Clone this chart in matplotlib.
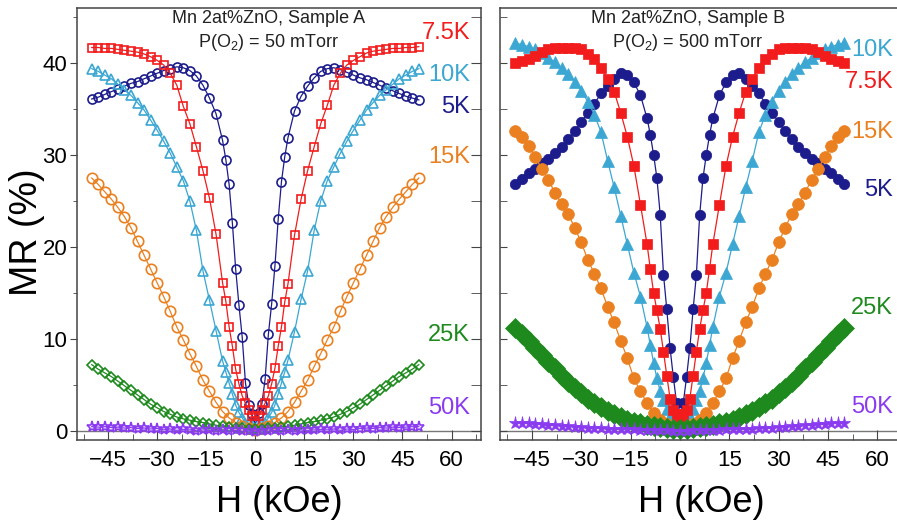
import matplotlib
matplotlib.use("Agg")
import matplotlib.pyplot as plt
from matplotlib.ticker import MultipleLocator

plt.rcParams['font.family'] = ['Liberation Sans', 'DejaVu Sans']
plt.rcParams['mathtext.default'] = 'regular'

# field grids (kOe)
H_FINE = [-50, -48, -46, -44, -42, -40, -38, -36, -34, -32, -30, -28, -26, -24, -22,
          -20, -18, -16, -14, -12, -10, -9, -8, -7, -6, -5, -4, -3, -2, -1, 0,
          1, 2, 3, 4, 5, 6, 7, 8, 9, 10, 12, 14, 16, 18, 20, 22, 24, 26, 28, 30,
          32, 34, 36, 38, 40, 42, 44, 46, 48, 50]
H_COARSE = [-50, -48, -46, -44, -42, -40, -38, -36, -34, -32, -30, -28, -26, -24, -22,
            -20, -18, -16, -14, -12, -10, -8, -6, -4, -2, 0, 2, 4, 6, 8, 10, 12, 14,
            16, 18, 20, 22, 24, 26, 28, 30, 32, 34, 36, 38, 40, 42, 44, 46, 48, 50]

# ---- Sample A, P(O2) = 50 mTorr ----
A_5K = [36.1, 36.3, 36.6, 36.9, 37.2, 37.5, 37.8, 38.0, 38.3, 38.6, 38.9, 39.2, 39.4, 39.6, 39.5,
        39.2, 38.6, 37.6, 36.2, 34.5, 31.6, 29.5, 26.8, 22.6, 17.6, 13.7, 10.2, 5.2, 2.8, 1.8, 0.7,
        1.9, 2.9, 5.6, 10.5, 13.8, 17.9, 23.0, 27.1, 29.8, 31.9, 34.8, 36.4, 37.5, 38.4, 39.1,
        39.4, 39.5, 39.3, 39.0, 38.7, 38.4, 38.2, 37.9, 37.6, 37.3, 37.0, 36.7, 36.4, 36.2, 36.0]
A_7K5 = [41.7, 41.7, 41.6, 41.6, 41.5, 41.4, 41.3, 41.2, 41.0, 40.7, 40.3, 39.8, 38.9, 37.6, 35.3,
         33.4, 30.9, 28.3, 25.3, 21.4, 16.1, 14.1, 11.3, 9.2, 6.7, 5.1, 3.8, 3.0, 2.3, 1.6, 1.1,
         1.6, 2.3, 3.0, 3.8, 5.1, 6.8, 9.2, 11.3, 14.0, 16.0, 21.3, 25.2, 28.3, 30.9, 33.4,
         35.4, 37.6, 38.9, 39.8, 40.3, 40.7, 41.1, 41.3, 41.4, 41.5, 41.6, 41.6, 41.7, 41.7, 41.8]
A_10K = [39.4, 39.1, 38.7, 38.3, 37.7, 37.1, 36.5, 35.7, 34.9, 33.8, 32.7, 31.5, 30.2, 28.7, 27.2,
         25.0, 21.8, 17.4, 14.2, 10.9, 7.6, 6.4, 5.2, 4.0, 2.8, 2.0, 1.4, 0.9, 0.7, 0.5, 0.3,
         0.5, 0.7, 0.9, 1.4, 2.0, 2.8, 4.0, 5.2, 6.4, 7.7, 10.8, 14.3, 17.4, 21.8, 25.0,
         27.2, 28.7, 30.2, 31.5, 32.7, 33.8, 34.9, 35.7, 36.5, 37.1, 37.7, 38.3, 38.7, 39.1, 39.4]
A_15K = [27.5, 26.8, 26.0, 25.2, 24.3, 23.3, 22.1, 20.6, 19.1, 17.6, 16.1, 14.6, 13.0, 11.3, 9.9,
         8.4, 7.0, 5.5, 4.3, 3.1, 2.1, 1.4, 0.9, 0.5, 0.3, 0.1, 0.3, 0.5, 0.9, 1.4, 2.1, 3.1, 4.3,
         5.5, 7.0, 8.4, 9.9, 11.3, 13.0, 14.6, 16.1, 17.6, 19.1, 20.6, 22.1, 23.3, 24.3, 25.2,
         26.0, 26.8, 27.5]
A_25K = [7.2, 6.7, 6.3, 5.9, 5.4, 4.9, 4.4, 3.9, 3.4, 2.9, 2.5, 2.1, 1.8, 1.5, 1.3,
         1.15, 1.0, 0.9, 0.75, 0.6, 0.5, 0.4, 0.3, 0.3, 0.2, 0.2, 0.2, 0.3, 0.3, 0.4, 0.5, 0.6,
         0.75, 0.9, 1.0, 1.15, 1.3, 1.5, 1.8, 2.1, 2.5, 2.9, 3.4, 3.9, 4.4, 4.9, 5.4, 5.9,
         6.3, 6.7, 7.2]
A_50K = [0.45, 0.4, 0.45, 0.35, 0.4, 0.3, 0.35, 0.25, 0.3, 0.2, 0.25, 0.1, 0.2, 0.05, 0.15,
         0.1, 0.0, 0.1, 0.05, 0.0, 0.05, -0.05, 0.05, -0.05, 0.0, -0.1, 0.0, -0.05, 0.05, 0.0,
         0.05, 0.0, 0.1, 0.05, 0.1, 0.15, 0.1, 0.2, 0.05, 0.2, 0.15, 0.25, 0.3, 0.25, 0.35,
         0.3, 0.4, 0.35, 0.4, 0.45, 0.45]

# ---- Sample B, P(O2) = 500 mTorr ----
B_5K = [26.9, 27.4, 28.0, 28.5, 29.1, 29.6, 30.2, 30.9, 31.7, 32.6, 33.6, 34.6, 35.6, 36.7, 37.5,
        38.3, 38.9, 38.7, 37.9, 36.5, 34.0, 32.2, 30.0, 27.5, 23.5, 17.0, 13.2, 9.0, 5.8, 3.0, 1.2,
        3.0, 5.8, 9.0, 13.2, 17.0, 23.5, 27.5, 30.0, 32.2, 34.0, 36.5, 37.9, 38.7, 38.9, 38.3,
        37.5, 36.7, 35.6, 34.6, 33.6, 32.6, 31.7, 30.9, 30.2, 29.6, 29.1, 28.5, 28.0, 27.4, 26.9]
B_7K5 = [40.0, 40.2, 40.5, 40.8, 41.2, 41.5, 41.6, 41.6, 41.6, 41.6, 41.5, 41.0, 40.4, 39.5, 38.3,
         36.9, 34.6, 32.0, 28.8, 24.6, 20.3, 17.6, 15.0, 13.1, 11.1, 8.6, 6.0, 3.5, 2.3, 1.8, 1.2,
         1.8, 2.3, 3.5, 6.0, 8.6, 11.1, 13.1, 15.0, 17.6, 20.3, 24.6, 28.8, 32.0, 34.6, 36.9,
         38.3, 39.5, 40.4, 41.0, 41.5, 41.6, 41.6, 41.6, 41.6, 41.5, 41.2, 40.8, 40.5, 40.2, 40.0]
B_10K = [42.2, 42.0, 41.8, 41.5, 41.1, 40.6, 40.1, 39.5, 38.8, 38.0, 37.0, 35.8, 34.4, 32.5, 29.4,
         26.5, 23.4, 20.3, 17.2, 14.6, 11.3, 9.3, 7.4, 5.7, 4.3, 3.3, 2.4, 1.6, 1.2, 0.8, 0.5,
         0.8, 1.2, 1.6, 2.4, 3.3, 4.3, 5.7, 7.4, 9.3, 11.3, 14.6, 17.2, 20.3, 23.4, 26.5,
         29.4, 32.5, 34.4, 35.8, 37.0, 38.0, 38.8, 39.5, 40.1, 40.6, 41.1, 41.5, 41.8, 42.0, 42.2]
B_15K = [32.6, 32.0, 31.0, 29.8, 28.5, 27.3, 25.9, 24.7, 23.6, 22.1, 20.5, 18.6, 17.1, 15.5, 13.5,
         11.8, 9.8, 7.9, 5.7, 4.3, 3.0, 1.9, 1.2, 0.7, 0.4, 0.3, 0.4, 0.7, 1.2, 1.9, 3.0, 4.3, 5.7,
         7.9, 9.8, 11.8, 13.5, 15.5, 17.1, 18.6, 20.5, 22.1, 23.6, 24.7, 25.9, 27.3, 28.5, 29.8,
         31.0, 32.0, 32.6]
B_25K = [11.2, 10.5, 9.8, 9.0, 8.3, 7.5, 6.8, 6.0, 5.3, 4.7, 4.1, 3.5, 3.0, 2.6, 2.2,
         1.8, 1.5, 1.2, 1.0, 0.8, 0.6, 0.5, 0.4, 0.3, 0.25, 0.2, 0.25, 0.3, 0.4, 0.5, 0.6, 0.8,
         1.0, 1.2, 1.5, 1.8, 2.2, 2.6, 3.0, 3.5, 4.1, 4.7, 5.3, 6.0, 6.8, 7.5, 8.3, 9.0,
         9.8, 10.5, 11.2]
B_50K = [0.9, 0.85, 0.8, 0.75, 0.7, 0.65, 0.6, 0.55, 0.5, 0.45, 0.4, 0.35, 0.3, 0.3, 0.25,
         0.2, 0.2, 0.15, 0.15, 0.1, 0.1, 0.1, 0.05, 0.05, 0.0, 0.0, 0.0, 0.05, 0.05, 0.1, 0.1,
         0.1, 0.15, 0.15, 0.2, 0.2, 0.25, 0.3, 0.3, 0.35, 0.4, 0.45, 0.5, 0.55, 0.6, 0.65, 0.7,
         0.75, 0.8, 0.85, 0.9]

NAVY = '#1c1c8c'
RED = '#f21c1c'
CYAN = '#3ba7d2'
ORANGE = '#ea8020'
GREEN = '#1e8a1e'
PURPLE = '#8a3bf0'

LABELS = ['5K', '7.5K', '10K', '15K', '25K', '50K']
COLORS = [NAVY, RED, CYAN, ORANGE, GREEN, PURPLE]

fig = plt.figure(figsize=(8.97, 5.24), dpi=100)
axA = fig.add_axes([77/897, 84/524, 404/897, 432/524])
axB = fig.add_axes([500/897, 84/524, 402/897, 432/524])

# series: (H, MR, marker, size)
seriesA = [(H_FINE, A_5K, 'o', 6.5), (H_FINE, A_10K, '^', 6.5), (H_FINE, A_7K5, 's', 5.5),
           (H_COARSE, A_15K, 'o', 7.5), (H_COARSE, A_25K, 'D', 5.5), (H_COARSE, A_50K, '*', 8)]
colA = [NAVY, CYAN, RED, ORANGE, GREEN, PURPLE]
for (h, mr, m, s), c in zip(seriesA, colA):
    axA.plot(h, mr, '-', color=c, lw=0.9, marker=m, ms=s, mfc='none', mec=c, mew=1.2)

seriesB = [(H_FINE, B_5K, 'o', 7.5), (H_FINE, B_10K, '^', 8), (H_FINE, B_7K5, 's', 6.5),
           (H_COARSE, B_15K, 'o', 8.5), (H_COARSE, B_25K, 'D', 10), (H_COARSE, B_50K, '*', 9.5)]
for (h, mr, m, s), c in zip(seriesB, colA):
    axB.plot(h, mr, '-', color=c, lw=0.9, marker=m, ms=s, mfc=c, mec=c, mew=0.5)

# temperature labels
labA = {'7.5K': 43.3, '10K': 38.7, '5K': 35.2, '15K': 29.8, '25K': 10.4, '50K': 2.5}
labB = {'10K': 41.4, '7.5K': 37.9, '15K': 32.5, '5K': 26.2, '25K': 13.4, '50K': 2.6}
for lab, c in zip(LABELS, COLORS):
    axA.text(65.7, labA[lab], lab, color=c, fontsize=17, ha='right', va='center')
    axB.text(64.7, labB[lab], lab, color=c, fontsize=17, ha='right', va='center')

axA.text(4, 44.9, 'Mn 2at%ZnO, Sample A', fontsize=13, ha='center', va='center', color='#222')
axA.text(4, 42.2, r'P(O$_2$) = 50 mTorr', fontsize=13, ha='center', va='center', color='#222')
axB.text(2.4, 44.9, 'Mn 2at%ZnO, Sample B', fontsize=13, ha='center', va='center', color='#222')
axB.text(2.4, 42.2, r'P(O$_2$) = 500 mTorr', fontsize=13, ha='center', va='center', color='#222')

for ax in (axA, axB):
    ax.axhline(0, color='#777777', lw=1, zorder=0)
    ax.set_ylim(-1, 46)
    ax.xaxis.set_major_locator(MultipleLocator(15))
    ax.xaxis.set_minor_locator(MultipleLocator(7.5))
    ax.yaxis.set_major_locator(MultipleLocator(10))
    ax.yaxis.set_minor_locator(MultipleLocator(5))
    ax.tick_params(axis='x', which='both', direction='in', top=False, labelsize=16, pad=7,
                   color='#444')
    ax.tick_params(axis='x', which='major', length=7)
    ax.tick_params(axis='x', which='minor', length=4)
    ax.set_xlabel('H (kOe)', fontsize=26, labelpad=10)
    for sp in ax.spines.values():
        sp.set_color('#444444')
        sp.set_linewidth(1.1)

axA.set_xlim(-54.5, 69)
axB.set_xlim(-54.7, 67.5)

axA.tick_params(axis='y', which='both', direction='out', right=False, labelsize=16, pad=2,
                color='#444')
axA.tick_params(axis='y', which='major', length=5)
axA.tick_params(axis='y', which='minor', length=3)
secA = axA.secondary_yaxis('right')
secA.yaxis.set_major_locator(MultipleLocator(10))
secA.yaxis.set_minor_locator(MultipleLocator(5))
secA.tick_params(axis='y', which='both', direction='in', labelright=False, length=7, color='#444')
secA.spines['right'].set_visible(False)
axA.set_ylabel('MR (%)', fontsize=27)
axA.yaxis.set_label_coords(-0.08, 0.48)

axB.tick_params(axis='y', which='both', direction='in', labelleft=False, right=False,
                length=5, color='#444')

fig.savefig('out.png', dpi=100)
